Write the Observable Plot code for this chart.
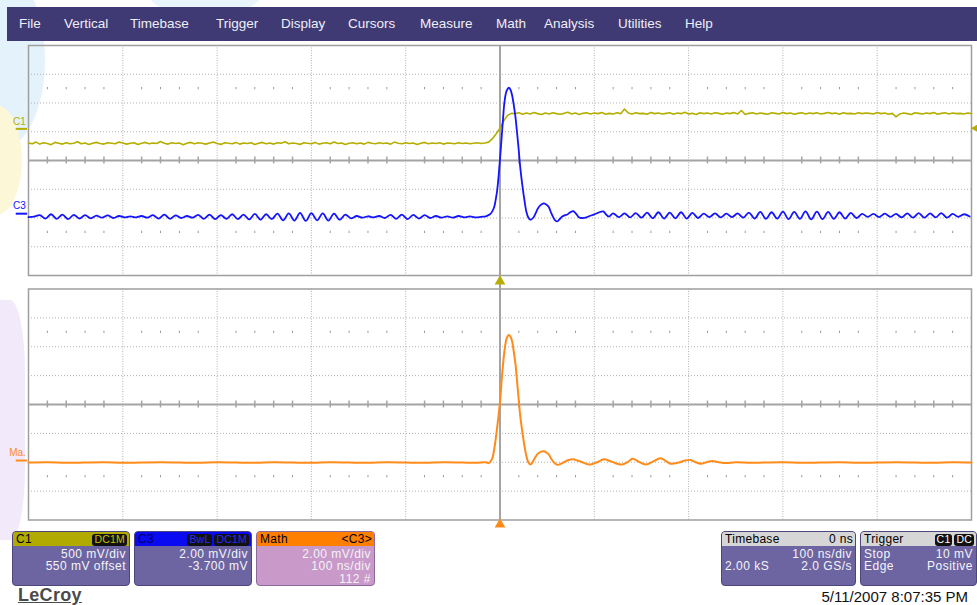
<!DOCTYPE html>
<html>
<head>
<meta charset="utf-8">
<script src="https://cdn.jsdelivr.net/npm/d3@7"></script>
<script src="https://cdn.jsdelivr.net/npm/@observablehq/plot@0.6"></script>
<style>
  html, body { margin: 0; padding: 0; background: #fff; }
  #root { position: relative; width: 977px; height: 605px; overflow: hidden; background: #fff;
          font-family: "Liberation Sans", Arial, sans-serif; }
  .deco { position: absolute; border-radius: 50%; }
  #menu { position: absolute; left: 7px; top: 7px; width: 970px; height: 34px; background: #403a74; }
  #menu span { position: absolute; top: 0; line-height: 34px; font-size: 13.5px; color: #eeeef6; white-space: nowrap; }
  .plotwrap { position: absolute; left: 0; }
  .box { position: absolute; top: 531px; height: 55px; border-radius: 4px; border: 1px solid #4c467c;
         background: #6d65a2; overflow: hidden; color: #f4f4f8; font-size: 12px; letter-spacing: 0.5px; box-sizing: border-box; }
  .hdr { height: 14px; line-height: 14px; padding: 0 2px 0 3px; display: flex; justify-content: space-between;
         align-items: center; color: #000; font-size: 12px; letter-spacing: 0.3px; }
  .row { height: 12.5px; line-height: 12.5px; padding: 0 3px; display: flex; justify-content: space-between; white-space: nowrap; }
  .row.r { justify-content: flex-end; }
  .first { margin-top: 1.5px; }
  .badge { display: inline-block; background: #111; border-radius: 3px; font-size: 10.5px; line-height: 11.5px;
           padding: 0 2px; margin-left: 2px; letter-spacing: 0.2px; }
  #lecroy { position: absolute; left: 18px; top: 585px; font-size: 18px; font-weight: bold; color: #4a4a4a;
            text-decoration: underline; letter-spacing: 0.3px; }
  #date { position: absolute; right: 9px; top: 588px; font-size: 15px; color: #111; }
</style>
</head>
<body>
<div id="root">
  <div class="deco" style="left:-45px;top:-30px;width:90px;height:180px;background:#e3f2fb;"></div>
  <div class="deco" style="left:150px;top:-20px;width:110px;height:34px;background:#e8f5fc;"></div>
  <div class="deco" style="left:-30px;top:105px;width:52px;height:110px;background:#fcf7d6;"></div>
  <div class="deco" style="left:-25px;top:300px;width:50px;height:240px;border-radius:30%;background:#f2e9fa;"></div>
  <div id="menu"></div>
  <div class="plotwrap" id="upper" style="top:40px"></div>
  <div class="plotwrap" id="lower" style="top:285px"></div>

  <div class="box" style="left:12px;width:118px;">
    <div class="hdr" style="background:#b1aa00;"><span>C1</span><span><span class="badge" style="color:#c8c000">DC1M</span></span></div>
    <div class="row r first">500 mV/div</div>
    <div class="row r">550 mV offset</div>
  </div>
  <div class="box" style="left:134px;width:118px;">
    <div class="hdr" style="background:#0a0af2;"><span style="color:#000060">C3</span><span><span class="badge" style="color:#2a2aff">BwL</span><span class="badge" style="color:#2a2aff">DC1M</span></span></div>
    <div class="row r first">2.00 mV/div</div>
    <div class="row r">-3.700 mV</div>
  </div>
  <div class="box" style="left:256px;width:119px;background:#c899c9;border-color:#8a6a9a;">
    <div class="hdr" style="background:#ff8000;"><span>Math</span><span>&lt;C3&gt;</span></div>
    <div class="row r first">2.00 mV/div</div>
    <div class="row r">100 ns/div</div>
    <div class="row r">112 #</div>
  </div>
  <div class="box" style="left:721px;width:135px;">
    <div class="hdr" style="background:#d6d6d6;"><span>Timebase</span><span>0 ns</span></div>
    <div class="row r first">100 ns/div</div>
    <div class="row"><span>2.00 kS</span><span>2.0 GS/s</span></div>
  </div>
  <div class="box" style="left:860px;width:117px;">
    <div class="hdr" style="background:#d6d6d6;"><span>Trigger</span><span><span class="badge" style="color:#fff">C1</span><span class="badge" style="color:#fff">DC</span></span></div>
    <div class="row first"><span>Stop</span><span>10 mV</span></div>
    <div class="row"><span>Edge</span><span>Positive</span></div>
  </div>
  <div id="lecroy">LeCroy</div>
  <div id="date">5/11/2007 8:07:35 PM</div>
</div>
<script>
// ---------- menu ----------
const menuItems = ["File","Vertical","Timebase","Trigger","Display","Cursors","Measure","Math","Analysis","Utilities","Help"];
const menuLeft = [12, 57, 123, 209, 274, 341, 413, 489, 537, 611, 678];

// ---------- screen grid (10 x 8 divisions) ----------
const xDomain = [-500, 500];   // ns (100 ns/div)
const yDomain = [-4, 4];       // divisions
const majorX = [-400, -300, -200, -100, 100, 200, 300, 400];
const majorY = [-3, -2, -1, 1, 2, 3];
const minorX = d3.range(-480, 500, 20).filter(t => t % 100 !== 0);

// ---------- C1 (divisions), 4 ns per sample from -500 ns ----------
const c1Start = -500, c1Step = 4;
const c1Values = [
0.61,0.58,0.64,0.57,0.62,0.59,0.55,0.63,0.60,0.57,
0.62,0.58,0.60,0.65,0.58,0.61,0.56,0.60,0.63,0.59,
0.57,0.62,0.60,0.58,0.64,0.61,0.57,0.60,0.62,0.56,
0.60,0.63,0.58,0.61,0.59,0.66,0.60,0.57,0.62,0.59,
0.61,0.55,0.60,0.63,0.58,0.62,0.60,0.57,0.61,0.64,
0.59,0.56,0.62,0.60,0.58,0.63,0.57,0.61,0.59,0.62,
0.56,0.60,0.63,0.58,0.61,0.57,0.62,0.60,0.65,0.58,
0.61,0.59,0.56,0.62,0.60,0.58,0.63,0.57,0.60,0.62,
0.58,0.64,0.59,0.61,0.56,0.60,0.62,0.58,0.61,0.57,
0.63,0.60,0.58,0.62,0.59,0.61,0.57,0.64,0.60,0.58,
0.62,0.59,0.61,0.56,0.60,0.63,0.58,0.61,0.59,0.62,
0.57,0.61,0.60,0.58,0.62,0.59,0.61,0.58,0.60,0.62,
0.59,0.61,
0.64,0.76,0.93,1.12,1.38,1.57,1.64,
1.63,1.66,1.61,1.65,1.62,1.67,1.63,1.60,1.65,1.62,
1.66,1.63,1.61,1.64,1.68,1.62,1.65,1.60,1.64,1.66,
1.62,1.65,1.63,1.67,1.61,1.64,1.62,1.66,1.63,1.79,
1.65,1.62,1.66,1.63,1.64,1.61,1.67,1.63,1.65,1.62,
1.64,1.66,1.61,1.65,1.63,1.68,1.62,1.64,1.60,1.66,
1.63,1.65,1.62,1.66,1.64,1.61,1.65,1.63,1.67,1.62,
1.74,1.60,1.64,1.66,1.62,1.65,1.63,1.61,1.66,1.64,
1.62,1.67,1.63,1.65,1.61,1.64,1.66,1.62,1.65,1.63,
1.66,1.62,1.64,1.67,1.63,1.65,1.61,1.66,1.63,1.64,
1.62,1.66,1.63,1.65,1.64,1.62,1.67,1.63,1.65,1.61,
1.64,1.52,1.62,1.65,1.63,1.60,1.66,1.64,1.62,1.65,
1.63,1.67,1.61,1.64,1.66,1.62,1.65,1.63,1.64,1.62,
1.65,1.63
];
const c1Offset = 1.10;   // offset marker (div)
const c1Trig = 1.12;     // trigger level marker (div)

// ---------- C3 (divisions) ----------
const c3PreStart = -500, c3Step = 6;
const c3PreValues = [
-1.97,-1.95,-1.90,-2.02,-1.87,-2.03,-1.88,-2.04,-1.89,-2.02,
-1.90,-2.01,-1.92,-1.99,-1.91,-2.00,-1.93,-1.98,-1.94,-1.98,
-1.93,-1.99,-1.90,-2.02,-1.88,-2.03,-1.91,-2.00,-1.93,-1.99,
-1.89,-2.03,-1.88,-2.04,-1.90,-2.03,-1.87,-2.04,-1.88,-2.05,
-1.86,-2.06,-1.87,-2.04,-1.85,-2.08,-1.84,-2.09,-1.82,-2.10,
-1.83,-2.08,-1.84,-2.09,-1.85,-2.06,-1.88,-2.01,-1.93,-1.99,
-1.94,-1.98,-1.93,-2.00,-1.89,-2.03,-1.88,-2.04,-1.89,-2.02,
-1.90,-2.00,-1.93,-1.99,-1.94,-1.99,-1.93,-1.98,-1.94,-1.98
];
const c3PulseT = [-20,-15,-11,-8,-6,-4.5,-3,-1.5,0,1.5,3,4.8,7,9.3,11,12.9,14.5,16.4,18,19.9,21.5,23.5,26,28.1,30,32.3,35,37.6,40,43,46.4,49,51.7,54,56.4,58.5,60.7,63,66,69,71.3,74.5,77.6,80.5,83.6,87,90.7,95,99.5,104,109.4,112,115.4];
const c3PulseV = [-1.96,-1.94,-1.88,-1.76,-1.60,-1.35,-1.04,-0.55,0.05,0.70,1.35,2.05,2.42,2.53,2.47,2.26,1.95,1.51,1.00,0.35,-0.25,-0.81,-1.40,-1.80,-1.98,-2.06,-2.00,-1.85,-1.68,-1.55,-1.49,-1.53,-1.62,-1.80,-1.97,-2.08,-2.12,-2.05,-1.95,-1.90,-1.88,-1.80,-1.76,-1.85,-1.97,-2.00,-1.99,-1.93,-1.88,-1.82,-1.77,-1.86,-1.95];
const c3PostStart = 120;
const c3PostValues = [
-1.84,-1.97,-1.84,-1.98,-1.83,-1.99,-1.81,-2.01,-1.80,-2.02,
-1.81,-2.01,-1.80,-2.02,-1.82,-2.00,-1.85,-1.97,-1.84,-1.98,
-1.85,-1.97,-1.84,-1.99,-1.81,-2.02,-1.79,-2.03,-1.80,-2.02,
-1.78,-2.04,-1.79,-2.03,-1.77,-2.05,-1.78,-2.04,-1.79,-2.03,
-1.80,-2.02,-1.82,-2.00,-1.86,-1.96,-1.86,-1.97,-1.85,-1.96,
-1.86,-1.98,-1.84,-1.99,-1.83,-1.99,-1.84,-1.98,-1.83,-1.99,
-1.86,-1.96,-1.87,-1.95
];
const c3Offset = -1.85;

// ---------- Math = average of C3 (divisions) ----------
const mathT = [-500,-480,-460,-440,-420,-400,-380,-360,-340,-320,-300,-280,-260,-240,-220,-200,-180,-160,-140,-120,-100,-80,-60,-40,-25,-15,
  -12,-10,-8,-5.8,-3,-0.2,2.3,4.8,7,9.3,11,12.9,14.5,16.4,18,19.9,21.5,23.5,26,28.1,30,32.3,35,37.6,40,43,46.4,49,51.7,54,57,60.7,64,67.7,72,77.6,82,87.2,92,96,103,110,117,124.3,129.6,135,140.8,147,154.3,162,170.2,176,180.8,189.6,196,202,207,213,219,225,232,239,250,265,
  280,300,320,340,360,380,400,420,440,460,480,500];
const mathV = [-2.01,-2.00,-2.02,-2.01,-2.00,-2.02,-2.01,-2.00,-2.01,-2.02,-2.00,-2.01,-2.02,-2.00,-2.01,-2.02,-2.00,-2.01,-2.02,-2.00,-2.01,-2.02,-2.00,-2.01,-2.02,-2.00,
  -2.03,-1.97,-1.85,-1.48,-0.79,0.02,1.06,1.87,2.28,2.41,2.36,2.18,1.85,1.41,0.85,0.14,-0.40,-0.90,-1.45,-1.80,-2.00,-2.08,-1.97,-1.82,-1.71,-1.64,-1.62,-1.66,-1.73,-1.86,-2.00,-2.09,-2.06,-2.00,-1.93,-1.90,-1.94,-2.00,-2.06,-2.08,-2.00,-1.90,-1.96,-2.05,-2.08,-2.00,-1.88,-1.98,-2.08,-1.98,-1.86,-1.96,-2.05,-2.01,-1.94,-1.92,-1.99,-2.05,-2.00,-1.96,-2.00,-2.03,-2.00,-2.02,
  -2.01,-2.00,-2.02,-2.01,-2.00,-2.02,-2.01,-2.00,-2.01,-2.02,-2.00,-2.01];
const mathOffset = -1.94;

// ---------- colours ----------
const colC1 = "#b5ae00", colC3 = "#1414ff", colMath = "#ff8c1a";
const gridCol = "#b2b2b2", axisCol = "#a4a4a4";

// build tables
const c1 = c1Values.map((v, i) => ({t: c1Start + i * c1Step, v}));
const c3 = [
  ...c3PreValues.map((v, i) => ({t: c3PreStart + i * c3Step, v})),
  ...c3PulseT.map((t, i) => ({t, v: c3PulseV[i]})),
  ...c3PostValues.map((v, i) => ({t: c3PostStart + i * c3Step, v}))
];
const mathData = mathT.map((t, i) => ({t, v: mathV[i]}));

const menu = document.getElementById("menu");
menuItems.forEach((m, i) => {
  const s = document.createElement("span");
  s.textContent = m; s.style.left = menuLeft[i] + "px";
  menu.appendChild(s);
});

function gridMarks() {
  return [
    Plot.ruleY(majorY, {stroke: gridCol, strokeDasharray: "1,2", strokeWidth: 1}),
    Plot.ruleX(majorX, {stroke: gridCol, strokeDasharray: "1,1.5", strokeWidth: 1}),
    Plot.ruleY([0], {stroke: axisCol, strokeWidth: 2}),
    Plot.ruleX([0], {stroke: axisCol, strokeWidth: 2}),
    Plot.ruleX(minorX, {y1: -0.12, y2: 0.12, stroke: axisCol, strokeWidth: 1.5}),
    Plot.ruleX(minorX, {y1: 2.46, y2: 2.54, stroke: "#9a9a9a", strokeWidth: 1}),
    Plot.ruleX(minorX, {y1: -2.46, y2: -2.54, stroke: "#9a9a9a", strokeWidth: 1}),
    Plot.frame({stroke: "#9e9e9e", strokeWidth: 1.5})
  ];
}

const common = {
  width: 977, height: 245, marginLeft: 28, marginRight: 6,
  x: {domain: xDomain, axis: null},
  y: {domain: yDomain, axis: null},
  style: {background: "transparent", overflow: "visible", fontFamily: "Liberation Sans, Arial, sans-serif"}
};
const left = xDomain[0], right = xDomain[1];

const upper = Plot.plot({
  ...common, marginTop: 5, marginBottom: 10,
  marks: [
    ...gridMarks(),
    Plot.ruleX([0], {y1: yDomain[0], y2: yDomain[0] - 0.35, stroke: axisCol, strokeWidth: 2, clip: false}),
    Plot.line(c1, {x: "t", y: "v", stroke: colC1, strokeWidth: 1.6}),
    Plot.line(c3, {x: "t", y: "v", stroke: colC3, strokeWidth: 1.8, curve: "catmull-rom"}),
    Plot.ruleY([{y: c1Offset}], {y: "y", x1: left - 13, x2: left - 1, stroke: colC1, strokeWidth: 2}),
    Plot.text([{y: c1Offset, s: "C1"}], {x: () => left, y: "y", text: "s", dx: -9, dy: -7, fill: colC1, fontSize: 10}),
    Plot.ruleY([{y: c3Offset}], {y: "y", x1: left - 13, x2: left - 1, stroke: colC3, strokeWidth: 2}),
    Plot.text([{y: c3Offset, s: "C3"}], {x: () => left, y: "y", text: "s", dx: -9, dy: -8, fill: colC3, fontSize: 10}),
    Plot.dot([{y: c1Trig}], {x: () => right, y: "y", dx: 4, symbol: "triangle", rotate: -90, r: 3, fill: colC1, stroke: "none"}),
    Plot.dot([{y: yDomain[0]}], {x: () => 0, y: "y", dy: 6, symbol: "triangle", r: 4, fill: colC1, stroke: "none"})
  ]
});
document.getElementById("upper").appendChild(upper);

const lower = Plot.plot({
  ...common, marginTop: 3.5, marginBottom: 10.5,
  marks: [
    ...gridMarks(),
    Plot.ruleX([0], {y1: yDomain[1], y2: yDomain[1] + 0.13, stroke: axisCol, strokeWidth: 2, clip: false}),
    Plot.line(mathData, {x: "t", y: "v", stroke: colMath, strokeWidth: 2, curve: "catmull-rom"}),
    Plot.ruleY([{y: mathOffset}], {y: "y", x1: left - 13, x2: left - 1, stroke: colMath, strokeWidth: 2}),
    Plot.text([{y: mathOffset, s: "Ma."}], {x: () => left, y: "y", text: "s", dx: -11, dy: -8, fill: colMath, fontSize: 10}),
    Plot.dot([{y: yDomain[0]}], {x: () => 0, y: "y", dy: 4.5, symbol: "triangle", r: 4, fill: colMath, stroke: "none"})
  ]
});
document.getElementById("lower").appendChild(lower);
</script>
</body>
</html>
